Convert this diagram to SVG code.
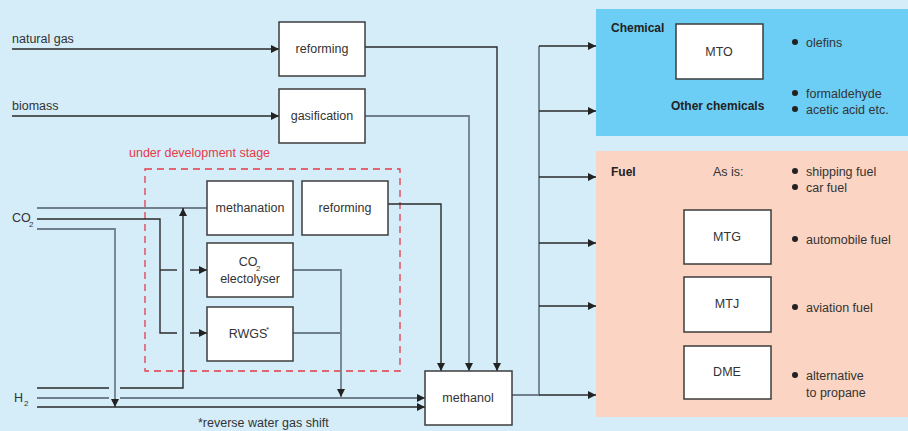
<svg xmlns="http://www.w3.org/2000/svg" width="908" height="431" viewBox="0 0 908 431">
  <defs>
    <marker id="arr" viewBox="0 0 10 10" refX="10" refY="5" markerWidth="9" markerHeight="8" markerUnits="userSpaceOnUse" orient="auto">
      <path d="M0,0 L10,5 L0,10 Z" fill="#222"/>
    </marker>
    <style>
      text { font-family: "Liberation Sans", Arial, sans-serif; font-size: 12.5px; fill: #333; }
      .c { text-anchor: middle; }
      .b { font-weight: bold; font-size: 12px; fill: #222; }
      .sub { font-size: 8px; }
      .red { fill: #e53a48; }
      .box { fill: #fff; stroke: #3c3c3c; stroke-width: 1.5; }
      .dk { fill: none; stroke: #2a2a2a; stroke-width: 1.4; }
      .gy { fill: none; stroke: #6f7f8b; stroke-width: 1.8; }
      .dot { fill: #222; }
    </style>
  </defs>

  <!-- background and product panels -->
  <rect x="0" y="0" width="908" height="431" fill="#d4edf9"/>
  <rect id="chemical-panel" x="596" y="9" width="312" height="127" fill="#6ccef4"/>
  <rect id="fuel-panel" x="596" y="151" width="312" height="266" fill="#fbd4c3"/>

  <!-- development area -->
  <rect x="145" y="169" width="255" height="202" fill="none" stroke="#e53a48" stroke-width="1.3" stroke-dasharray="7,5"/>
  <text class="red" x="129" y="157">under development stage</text>

  <!-- connectors -->
  <g id="connectors">
    <!-- feedstocks -->
    <path class="dk" d="M12,49 H279" marker-end="url(#arr)"/>
    <path class="dk" d="M12,116 H279" marker-end="url(#arr)"/>
    <!-- reforming / gasification to methanol -->
    <path class="dk" d="M365,47 H497 V371" marker-end="url(#arr)"/>
    <path class="gy" d="M365,116 H469 V371" marker-end="url(#arr)"/>
    <path class="dk" d="M388,204 H441 V371" marker-end="url(#arr)"/>
    <!-- CO2 lines -->
    <path class="gy" d="M37,208 H207"/>
    <path class="dk" d="M37,219 H160 V333 H177"/>
    <path class="dk" d="M160,270 H177"/>
    <path class="dk" d="M190,270 H207" marker-end="url(#arr)"/>
    <path class="dk" d="M190,333 H207" marker-end="url(#arr)"/>
    <path class="gy" d="M37,229 H115 V407" marker-end="url(#arr)"/>
    <!-- H2 lines -->
    <path class="dk" d="M37,388 H109"/>
    <path class="dk" d="M120,388 H183 V208" marker-end="url(#arr)"/>
    <path class="gy" d="M37,398 H109"/>
    <path class="gy" d="M120,398 H425" marker-end="url(#arr)"/>
    <path class="dk" d="M37,407 H425" marker-end="url(#arr)"/>
    <!-- electrolyser / RWGS outputs -->
    <path class="gy" d="M293,270 H341 V397" marker-end="url(#arr)"/>
    <path class="gy" d="M293,333 H341"/>
    <!-- methanol distribution -->
    <path class="gy" d="M512,395 H539 V46"/>
    <path class="dk" d="M539,46 H596" marker-end="url(#arr)"/>
    <path class="dk" d="M539,111 H596" marker-end="url(#arr)"/>
    <path class="dk" d="M539,177 H596" marker-end="url(#arr)"/>
    <path class="dk" d="M539,243 H596" marker-end="url(#arr)"/>
    <path class="dk" d="M539,306 H596" marker-end="url(#arr)"/>
    <path class="dk" d="M539,395 H596" marker-end="url(#arr)"/>
  </g>

  <!-- input labels -->
  <text x="12" y="42.5">natural gas</text>
  <text x="12" y="109.5">biomass</text>
  <text x="12" y="222">CO</text><text class="sub" x="29" y="227">2</text>
  <text x="14" y="402">H</text><text class="sub" x="24" y="406">2</text>

  <!-- process nodes -->
  <g id="reforming">
    <rect class="box" x="279" y="22" width="86" height="54"/>
    <text class="c" x="322" y="53">reforming</text>
  </g>
  <g id="gasification">
    <rect class="box" x="279" y="89" width="86" height="54"/>
    <text class="c" x="322" y="120">gasification</text>
  </g>
  <g id="methanation">
    <rect class="box" x="207" y="181" width="86" height="54"/>
    <text class="c" x="250" y="212">methanation</text>
  </g>
  <g id="reforming-dev">
    <rect class="box" x="302" y="181" width="86" height="54"/>
    <text class="c" x="345" y="212">reforming</text>
  </g>
  <g id="co2-electrolyser">
    <rect class="box" x="207" y="243" width="86" height="54"/>
    <text class="c" x="248" y="266">CO</text><text class="sub" x="256" y="271">2</text>
    <text class="c" x="250" y="283">electolyser</text>
  </g>
  <g id="rwgs">
    <rect class="box" x="207" y="307" width="86" height="54"/>
    <text class="c" x="248" y="338">RWGS</text><text class="sub" x="266" y="332">*</text>
  </g>
  <g id="methanol">
    <rect class="box" x="425" y="371" width="87" height="54"/>
    <text class="c" x="468" y="402">methanol</text>
  </g>

  <text x="198" y="427">*reverse water gas shift</text>

  <!-- chemical uses -->
  <g id="chemical">
    <text class="b" x="611" y="32">Chemical</text>
    <text class="b" x="671" y="110">Other chemicals</text>
    <circle class="dot" cx="795" cy="42" r="3"/>
    <text x="806" y="47">olefins</text>
    <circle class="dot" cx="795" cy="93" r="3"/>
    <text x="806" y="98">formaldehyde</text>
    <circle class="dot" cx="795" cy="109" r="3"/>
    <text x="806" y="114">acetic acid etc.</text>
  </g>
  <g id="mto">
    <rect class="box" x="676" y="24" width="87" height="55"/>
    <text class="c" x="719" y="56">MTO</text>
  </g>

  <!-- fuel uses -->
  <g id="fuel">
    <text class="b" x="611" y="176">Fuel</text>
    <text x="713" y="176">As is:</text>
    <circle class="dot" cx="795" cy="171" r="3"/>
    <text x="806" y="176">shipping fuel</text>
    <circle class="dot" cx="795" cy="187" r="3"/>
    <text x="806" y="192">car fuel</text>
    <circle class="dot" cx="795" cy="239" r="3"/>
    <text x="806" y="244">automobile fuel</text>
    <circle class="dot" cx="795" cy="307" r="3"/>
    <text x="806" y="312">aviation fuel</text>
    <circle class="dot" cx="795" cy="375" r="3"/>
    <text x="806" y="380">alternative</text>
    <text x="806" y="397">to propane</text>
  </g>
  <g id="mtg">
    <rect class="box" x="684" y="210" width="87" height="54"/>
    <text class="c" x="727" y="241">MTG</text>
  </g>
  <g id="mtj">
    <rect class="box" x="684" y="277" width="87" height="55"/>
    <text class="c" x="727" y="308">MTJ</text>
  </g>
  <g id="dme">
    <rect class="box" x="684" y="346" width="87" height="53"/>
    <text class="c" x="727" y="376">DME</text>
  </g>
</svg>
